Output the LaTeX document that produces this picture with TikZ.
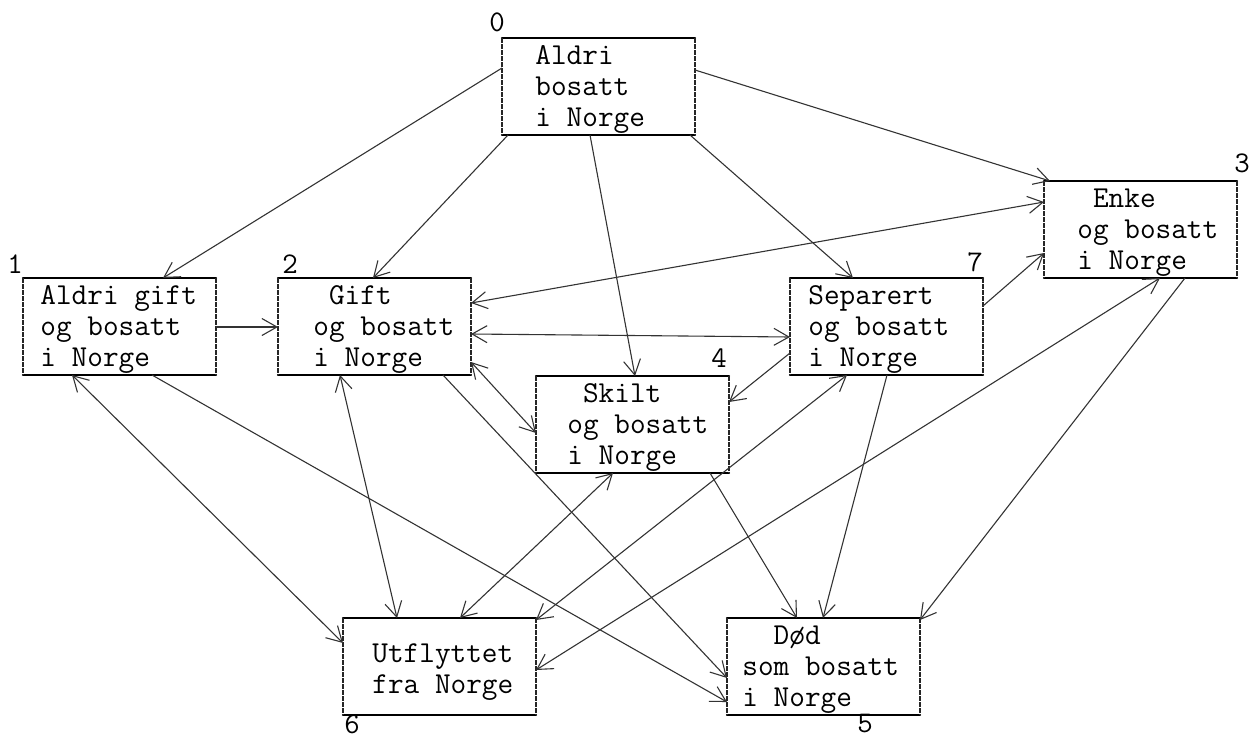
\documentclass[tikz,border=0pt]{standalone}
\usetikzlibrary{arrows.meta,calc}
\newcommand\bxedges[1]{%
  \draw[hedge] (#1.north west) -- (#1.north east);
  \draw[hedge] (#1.south west) -- (#1.south east);
  \draw[vedge] (#1.north west) -- (#1.south west);
  \draw[vedge] (#1.north east) -- (#1.south east);}
\tikzset{
  stbox/.style={draw=none, anchor=north west, minimum width=96.5pt, minimum height=48.5pt, inner sep=0pt, outer sep=0pt},
  sttxt/.style={anchor=north west, inner sep=0pt, align=left, font=\fontsize{15.2pt}{15.5pt}\selectfont\ttfamily},
  hedge/.style={line width=1.1pt, black, line cap=round},
  vedge/.style={line width=0.6pt, black!85, dash pattern=on 2.5pt off 0.5pt},
  conn/.style={line width=0.55pt, black!80},
  ar/.style={conn, -{Straight Barb[length=7.5pt,width=8.5pt]}},
  bar/.style={conn, {Straight Barb[length=7.5pt,width=8.5pt]}-{Straight Barb[length=7.5pt,width=8.5pt]}},
  num/.style={font=\fontsize{15pt}{15pt}\selectfont\ttfamily, inner sep=0pt},
}
\begin{document}
\begin{tikzpicture}[x=0.5pt,y=-0.5pt]
\useasboundingbox (0,0) rectangle (1250,740);
% boxes
\node[stbox] (b0) at (502,38) {};
\node[stbox] (b1) at (23,278) {};
\node[stbox] (b2) at (278,278) {};
\node[stbox] (b7) at (790,278) {};
\node[stbox] (b3) at (1044,181) {};
\node[stbox] (b4) at (536,376) {};
\node[stbox] (b6) at (343,618) {};
\node[stbox] (b5) at (727,618) {};
\bxedges{b0}\bxedges{b1}\bxedges{b2}\bxedges{b7}
\bxedges{b3}\bxedges{b4}\bxedges{b6}\bxedges{b5}
% texts
\node[sttxt] (t0) at ([shift={(33,0)}]b0.north west) {\rule{0pt}{13pt}Aldri\\bosatt\\i Norge};
\node[sttxt] (t1) at ([shift={(17,0)}]b1.north west) {\rule{0pt}{13pt}Aldri gift\\og bosatt\\i Norge};
\node[sttxt] (t2) at ([shift={(35,0)}]b2.north west) {\rule{0pt}{13pt}\hphantom{x}Gift\\og bosatt\\i Norge};
\node[sttxt] (t7) at ([shift={(18,0)}]b7.north west) {\rule{0pt}{13pt}Separert\\og bosatt\\i Norge};
\node[sttxt] (t3) at ([shift={(33,0)}]b3.north west) {\rule{0pt}{13pt}\hphantom{x}Enke\\og bosatt\\i Norge};
\node[sttxt] (t4) at ([shift={(31,0)}]b4.north west) {\rule{0pt}{13pt}\hphantom{x}Skilt\\og bosatt\\i Norge};
\node[sttxt] (t6) at ([shift={(29,0)}]b6.north west) {\rule{0pt}{22pt}Utflyttet\\fra Norge};
\node[sttxt] (t5) at ([shift={(15,0)}]b5.north west) {\rule{0pt}{13pt}\hphantom{xx}Død\\som bosatt\\i Norge};
% state numbers
\node[num] (n0) at (497,22) {0};
\node[num] (n1) at (15,264) {1};
\node[num] (n2) at (290,264) {2};
\node[num] (n7) at (975,262) {7};
\node[num] (n3) at (1242,163) {3};
\node[num] (n4) at (719,358) {4};
\node[num] (n6) at (352,724) {6};
\node[num] (n5) at (865,724) {5};
% connectors from 0
\draw[ar] ([shift={(0,30)}]b0.north west) -- ([shift={(140,0)}]b1.north west);
\draw[ar] ([shift={(6,97)}]b0.north west) -- ([shift={(95,0)}]b2.north west);
\draw[ar] ([shift={(88,97)}]b0.north west) -- ([shift={(99,0)}]b4.north west);
\draw[ar] ([shift={(188,97)}]b0.north west) -- ([shift={(63,0)}]b7.north west);
\draw[ar] ([shift={(193,32)}]b0.north west) -- ([shift={(6,0)}]b3.north west);
% row connectors
\draw[ar] ([shift={(193,49)}]b1.north west) -- ([shift={(0,49)}]b2.north west);
\draw[bar] ([shift={(193,56)}]b2.north west) -- ([shift={(0,59)}]b7.north west);
\draw[bar] ([shift={(193,25)}]b2.north west) -- ([shift={(0,21)}]b3.north west);
\draw[bar] ([shift={(193,84)}]b2.north west) -- ([shift={(0,57)}]b4.north west);
\draw[ar] ([shift={(0,75)}]b7.north west) -- ([shift={(193,26)}]b4.north west);
\draw[ar] ([shift={(193,28)}]b7.north west) -- ([shift={(0,72)}]b3.north west);
% downward connectors
\draw[bar] ([shift={(49,97)}]b1.north west) -- ([shift={(0,25)}]b6.north west);
\draw[ar] ([shift={(129,97)}]b1.north west) -- ([shift={(0,84)}]b5.north west);
\draw[ar] ([shift={(165,97)}]b2.north west) -- ([shift={(0,60)}]b5.north west);
\draw[bar] ([shift={(62,97)}]b2.north west) -- ([shift={(54,0)}]b6.north west);
\draw[bar] ([shift={(77,97)}]b4.north west) -- ([shift={(117,0)}]b6.north west);
\draw[bar] ([shift={(57,97)}]b7.north west) -- ([shift={(193,2)}]b6.north west);
\draw[bar] ([shift={(116,97)}]b3.north west) -- ([shift={(193,52)}]b6.north west);
\draw[ar] ([shift={(141,97)}]b3.north west) -- ([shift={(193,2)}]b5.north west);
\draw[ar] ([shift={(97,97)}]b7.north west) -- ([shift={(96,0)}]b5.north west);
\draw[ar] ([shift={(174,97)}]b4.north west) -- ([shift={(70,0)}]b5.north west);
\end{tikzpicture}
\end{document}
